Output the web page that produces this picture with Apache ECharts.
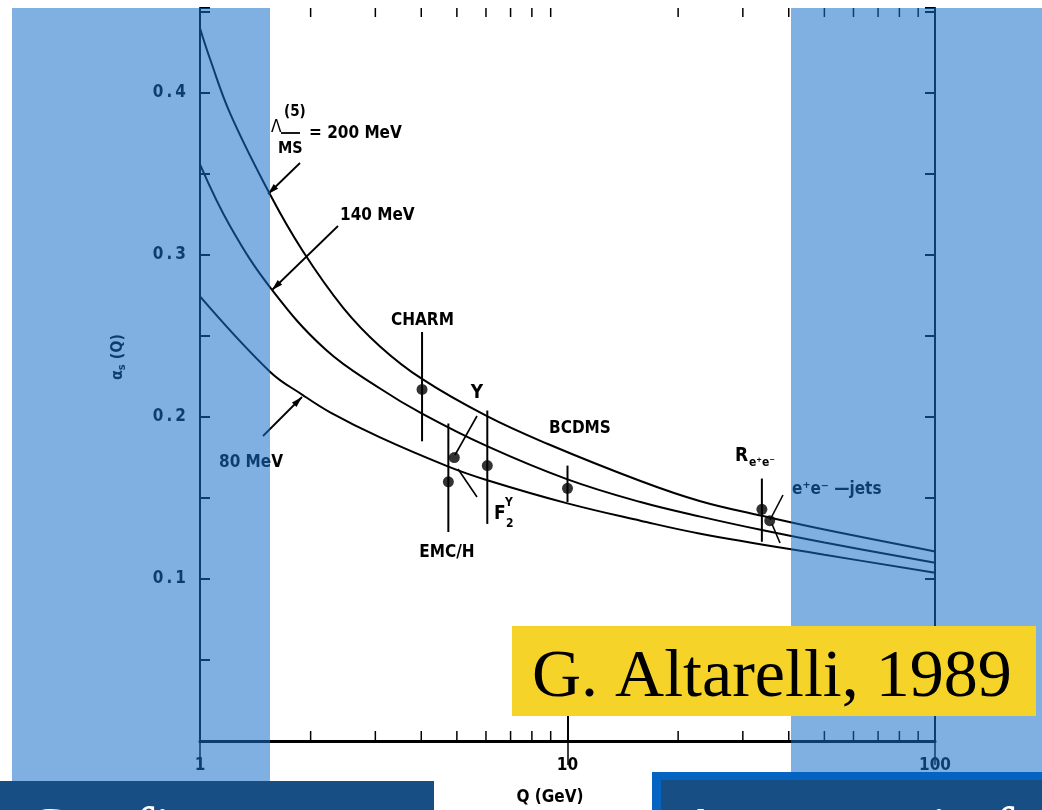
<!DOCTYPE html>
<html><head><meta charset="utf-8">
<script src="https://cdn.jsdelivr.net/npm/echarts@6/dist/echarts.min.js"></script>
<style>html,body{margin:0;padding:0;background:#fff}#c{width:1042px;height:810px}</style>
</head><body><div id="c"></div>
<script>
// ---- data ----
const yTickLabels = [0.1, 0.2, 0.3, 0.4];
const xTickLabels = [1, 10, 100];
const xMinorTicks = [2, 3, 4, 5, 6, 7, 8, 9, 20, 30, 40, 50, 60, 70, 80, 90];

const q200 = [1, 1.065, 1.21, 1.55, 1.9, 2.45, 3.09, 4.02, 6.04, 8.81, 15.8, 23, 33.8, 50, 100];
const a200 = [0.440, 0.421, 0.387, 0.3375, 0.3028, 0.2676, 0.2436, 0.2235, 0.2005, 0.1835, 0.1605, 0.148, 0.139, 0.1305, 0.117];
const q140 = [1, 1.21, 1.57, 2.2, 3.09, 4.02, 6.04, 10, 15.8, 23, 33.8, 50, 100];
const a140 = [0.356, 0.3175, 0.2785, 0.2415, 0.2176, 0.2021, 0.182, 0.1615, 0.1475, 0.1385, 0.1302, 0.1225, 0.110];
const q80 = [1, 1.55, 1.9, 2.26, 3.09, 4.74, 6.05, 10, 15.8, 23, 50, 100];
const a80 = [0.2745, 0.228, 0.2137, 0.2029, 0.1874, 0.1694, 0.161, 0.1467, 0.136, 0.128, 0.115, 0.1039];

const pointNames = ['CHARM', 'EMC/H', 'Υ', 'F2Υ', 'BCDMS', 'Re+e-', 'e+e- jets'];
const pointQ = [4.02, 4.74, 4.92, 6.05, 10, 33.8, 35.5];
const pointA = [0.217, 0.160, 0.175, 0.170, 0.156, 0.143, 0.136];
const errLow = [0.185, 0.129, null, 0.134, 0.1475, 0.123, null];
const errHigh = [0.2525, 0.196, null, 0.204, 0.170, 0.162, null];

// ---- chart ----
const zip = (xs, ys) => xs.map((x, i) => [x, ys[i]]);
const FONT = '"DejaVu Sans Condensed", "DejaVu Sans", sans-serif';
const chart = echarts.init(document.getElementById('c'), null, {renderer: 'canvas'});

const axisLineStyle = {color: '#000', width: 2};
const lineSeries = (data) => ({
  type: 'line', data, smooth: 0.4, showSymbol: false, symbol: 'none',
  lineStyle: {color: '#000', width: 2}, z: 3, silent: true
});

const option = {
  animation: false,
  backgroundColor: '#fff',
  grid: {left: 200, top: 8, width: 735, height: 733},
  xAxis: [
    {type: 'log', logBase: 10, min: 1, max: 100, position: 'bottom',
     axisLine: {lineStyle: axisLineStyle},
     axisTick: {inside: true, length: 25, lineStyle: {color: '#000', width: 2}},
     minorTick: {show: false}, splitLine: {show: false},
     axisLabel: {margin: 16, color: '#000', fontFamily: FONT, fontWeight: 'bold', fontSize: 17,
       formatter: v => { const r = Math.round(v); return xTickLabels.includes(r) ? String(r) : ''; }}},
    {type: 'log', logBase: 10, min: 1, max: 100, position: 'top',
     axisLine: {lineStyle: {color: '#000', width: 3}},
     axisTick: {inside: true, length: 24, lineStyle: {color: '#000', width: 1.5}},
     splitLine: {show: false}, axisLabel: {show: false}}
  ],
  yAxis: [
    {type: 'value', min: 0, max: 0.4525, interval: 0.05, position: 'left',
     axisLine: {show: true, lineStyle: axisLineStyle},
     axisTick: {show: true, inside: true, length: 10, lineStyle: {color: '#000', width: 2}},
     splitLine: {show: false},
     axisLabel: {margin: 14, color: '#000', fontFamily: FONT, fontWeight: 'bold', fontSize: 17,
       formatter: v => { const r = Math.round(v * 100) / 100; return yTickLabels.includes(r) ? String(r).split('').join('\u2009') : ''; }}},
    {type: 'value', min: 0, max: 0.4525, interval: 0.05, position: 'right',
     axisLine: {show: true, lineStyle: axisLineStyle},
     axisTick: {show: true, inside: true, length: 10, lineStyle: {color: '#000', width: 2}},
     splitLine: {show: false}, axisLabel: {show: false}}
  ],
  series: [
    lineSeries(zip(q200, a200)),
    lineSeries(zip(q140, a140)),
    lineSeries(zip(q80, a80)),
    {type: 'custom', silent: true, z: 4,
     data: pointQ.map((q, i) => [q, errLow[i], errHigh[i]]).filter(d => d[1] != null),
     renderItem: (params, api) => {
       const lo = api.coord([api.value(0), api.value(1)]);
       const hi = api.coord([api.value(0), api.value(2)]);
       return {type: 'line', shape: {x1: lo[0], y1: lo[1], x2: hi[0], y2: hi[1]},
               style: {stroke: '#000', lineWidth: 2}};
     }},
    {type: 'scatter', data: zip(pointQ, pointA), symbol: 'circle', symbolSize: 11,
     itemStyle: {color: '#000'}, z: 5, silent: true}
  ]
};
chart.setOption(option);

// ---- decorations ----
const g = [];
const px = (q, a) => chart.convertToPixel({xAxisIndex: 0, yAxisIndex: 0}, [q, a]);
const yTop = px(1, 0.4525)[1], yBot = px(1, 0)[1];
xMinorTicks.forEach(v => {
  const x = px(v, 0)[0];
  g.push({type: 'line', shape: {x1: x, y1: yBot, x2: x, y2: yBot - 10}, style: {stroke: '#000', lineWidth: 1.5}, z: 6});
  g.push({type: 'line', shape: {x1: x, y1: yTop, x2: x, y2: yTop + 9}, style: {stroke: '#000', lineWidth: 1.5}, z: 6});
});

const txt = (text, x, y, size, opts) => Object.assign({type: 'text', x, y, z: 10,
  style: Object.assign({text, fill: '#000', font: `bold ${size}px ${FONT}`, textVerticalAlign: 'middle'}, (opts || {}))});
const ln = (x1, y1, x2, y2, w) => ({type: 'line', z: 10, shape: {x1, y1, x2, y2}, style: {stroke: '#000', lineWidth: w || 1.6}});
const arrow = (x1, y1, x2, y2) => {
  const ang = Math.atan2(y2 - y1, x2 - x1), L = 11, W = 3.2;
  const bx = x2 - L * Math.cos(ang), by = y2 - L * Math.sin(ang);
  const nx = -Math.sin(ang) * W, ny = Math.cos(ang) * W;
  g.push(ln(x1, y1, x2, y2, 1.8));
  g.push({type: 'polygon', z: 10, shape: {points: [[x2, y2], [bx + nx, by + ny], [bx - nx, by - ny]]}, style: {fill: '#000'}});
};

// Lambda label
g.push(txt('Λ', 271, 128, 17, {font: `17px ${FONT}`}));
g.push(txt('(5)', 284, 112, 15));
g.push(ln(281, 133, 300, 133, 1.8));
g.push(txt('MS', 278, 149, 16));
g.push(txt('= 200 MeV', 309, 134, 17));
arrow(300, 163, 268, 194);
g.push(txt('140 MeV', 340, 216, 17));
arrow(338, 226, 272, 290);
g.push(txt('80 MeV', 219, 463, 17));
arrow(263, 436, 302, 397);
g.push(txt('CHARM', 391, 321, 17));
g.push(txt('Υ', 477, 393, 19, {textAlign: 'center'}));
g.push(ln(477, 416, 455, 455));
g.push(ln(458, 469, 477, 497));
g.push(txt('F', 494, 514, 19));
g.push(txt('2', 506, 524, 12));
g.push(txt('Υ', 505, 503, 12));
g.push(txt('BCDMS', 549, 429, 17));
g.push(txt('EMC/H', 447, 553, 17, {textAlign: 'center'}));
g.push(txt('R', 735, 456, 19));
g.push(txt('e⁺e⁻', 749, 463, 12));
g.push(ln(770, 520, 783, 495));
g.push(ln(772, 524, 780, 543));
g.push(txt('e⁺e⁻ —jets', 792, 490, 17));

// axis titles
g.push({type: 'text', x: 118, y: 357, rotation: Math.PI / 2, z: 10,
  style: {rich: {a: {font: `bold 16px ${FONT}`, fill: '#000'}, s: {font: `bold 11px ${FONT}`, fill: '#000', padding: [8, 0, 0, 0]}},
    text: '{a|α}{s|s}{a| (Q)}', textAlign: 'center', textVerticalAlign: 'middle'}});
g.push(txt('Q (GeV)', 550, 798, 17, {textAlign: 'center'}));

// blue bands (translucent overlay)
const bandFill = 'rgba(24,109,200,0.55)';
g.push({type: 'rect', z: 100, shape: {x: 12, y: 8, width: 258, height: 775}, style: {fill: bandFill}});
g.push({type: 'rect', z: 100, shape: {x: 791, y: 8, width: 251, height: 766}, style: {fill: bandFill}});

// yellow box
g.push({type: 'rect', z: 150, shape: {x: 512, y: 626, width: 524, height: 90}, style: {fill: '#F5D328'}});
g.push({type: 'text', z: 151, x: 532, y: 678, style: {text: 'G. Altarelli, 1989', fill: '#000',
  font: '68px "Liberation Serif", "Times New Roman", serif', textVerticalAlign: 'middle'}});

// bottom dark boxes
g.push({type: 'rect', z: 200, shape: {x: 0, y: 781, width: 434, height: 40}, style: {fill: '#174F85'}});
g.push({type: 'rect', z: 200, shape: {x: 652, y: 772, width: 400, height: 50}, style: {fill: '#0563C1'}});
g.push({type: 'rect', z: 201, shape: {x: 661, y: 780, width: 400, height: 50}, style: {fill: '#174F85'}});
g.push({type: 'text', z: 202, x: 26, y: 866, style: {text: 'Confinement', fill: '#fff',
  font: '64px "Liberation Serif", serif', textVerticalAlign: 'bottom'}});
g.push({type: 'text', z: 202, x: 678, y: 866, style: {text: 'Asymptotic freedom', fill: '#fff',
  font: '64px "Liberation Serif", serif', textVerticalAlign: 'bottom'}});

chart.setOption({graphic: {elements: g}});
</script>
</body></html>
